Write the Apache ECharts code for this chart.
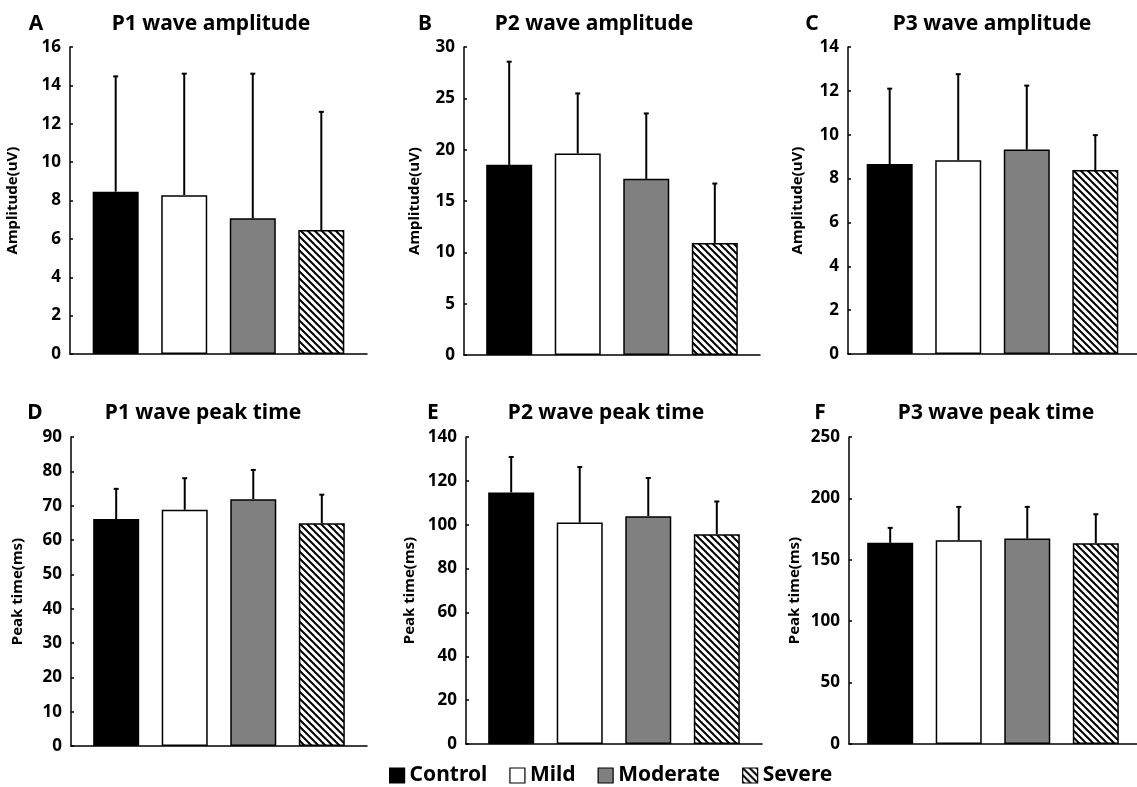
<!DOCTYPE html>
<html>
<head>
<meta charset="utf-8">
<title>ERP wave amplitude and peak time</title>
<script src="https://cdn.jsdelivr.net/npm/echarts@6/dist/echarts.min.js"></script>
<style>
  html, body { margin: 0; padding: 0; background: #fff; }
  #mychart { width: 1137px; height: 787px; }
</style>
</head>
<body>
<div id="mychart"></div>
<script>
// groups (legend / bars)
const groups = ['Control', 'Mild', 'Moderate', 'Severe']

// panel texts
const panelLetters = ['A', 'B', 'C', 'D', 'E', 'F']
const panelTitles = ['P1 wave amplitude', 'P2 wave amplitude', 'P3 wave amplitude',
  'P1 wave peak time', 'P2 wave peak time', 'P3 wave peak time']
const yNames = ['Amplitude(uV)', 'Amplitude(uV)', 'Amplitude(uV)',
  'Peak time(ms)', 'Peak time(ms)', 'Peak time(ms)']

// y axis ticks
const yMax = [16, 30, 14, 90, 140, 250]
const yStep = [2, 5, 2, 10, 20, 50]

// means and SD, order: Control, Mild, Moderate, Severe
const p1AmpMean = [8.46, 8.28, 7.07, 6.46]
const p1AmpSD = [6.01, 6.33, 7.54, 6.16]
const p2AmpMean = [18.52, 19.63, 17.16, 10.92]
const p2AmpSD = [10.05, 5.85, 6.37, 5.78]
const p3AmpMean = [8.66, 8.84, 9.33, 8.39]
const p3AmpSD = [3.44, 3.92, 2.91, 1.59]
const p1TimeMean = [66.1, 68.8, 71.9, 64.9]
const p1TimeSD = [8.8, 9.2, 8.5, 8.3]
const p2TimeMean = [114.7, 101.0, 103.9, 95.7]
const p2TimeSD = [16.2, 25.3, 17.4, 14.9]
const p3TimeMean = [163.8, 165.9, 167.3, 163.5]
const p3TimeSD = [12.2, 27.2, 25.8, 23.6]

const means = [p1AmpMean, p2AmpMean, p3AmpMean, p1TimeMean, p2TimeMean, p3TimeMean]
const sds = [p1AmpSD, p2AmpSD, p3AmpSD, p1TimeSD, p2TimeSD, p3TimeSD]

// layout
const FONT = "'Noto Sans', 'DejaVu Sans', sans-serif"
const BAR_W = 46
const BAR_GAP = 0.49   // fraction of bar width
const grids = [
  { left: 70, top: 47, width: 297, height: 307 },
  { left: 464, top: 47, width: 296, height: 308 },
  { left: 848, top: 47, width: 297, height: 307 },
  { left: 71, top: 437, width: 296, height: 309 },
  { left: 466, top: 437, width: 296, height: 307 },
  { left: 849, top: 437, width: 297, height: 307 }
]
const nameGaps = [50, 42, 43, 46, 49, 47]

// hatch pattern for Severe
function makeHatch() {
  const s = 7
  const c = document.createElement('canvas')
  c.width = s
  c.height = s
  const ctx = c.getContext('2d')
  ctx.fillStyle = '#fff'
  ctx.fillRect(0, 0, s, s)
  ctx.strokeStyle = '#000'
  ctx.lineWidth = 2
  for (let k = -1; k <= 1; k++) {
    ctx.beginPath()
    ctx.moveTo(k * s - 1, -1)
    ctx.lineTo(k * s + s + 1, s + 1)
    ctx.stroke()
  }
  return c
}
const hatch = { image: makeHatch(), repeat: 'repeat' }
const fills = ['#000000', '#ffffff', '#808080', hatch]

const myChart = echarts.init(document.querySelector('#mychart'))

const xAxis = []
const yAxis = []
const series = []
const graphic = []

grids.forEach(function (g, p) {
  xAxis.push({
    type: 'category',
    gridIndex: p,
    data: [''],
    axisLine: { lineStyle: { color: '#000', width: 1.5 } },
    axisTick: { show: false },
    axisLabel: { show: false }
  })
  yAxis.push({
    type: 'value',
    gridIndex: p,
    min: 0,
    max: yMax[p],
    interval: yStep[p],
    name: yNames[p],
    nameLocation: 'middle',
    nameGap: nameGaps[p],
    nameTextStyle: { fontFamily: FONT, fontWeight: 'bold', fontSize: 15, color: '#000' },
    axisLine: { show: true, lineStyle: { color: '#000', width: 1.5 } },
    axisTick: { show: true, inside: true, length: 3, lineStyle: { color: '#000', width: 1.5 } },
    axisLabel: { fontFamily: FONT, fontWeight: 'bold', fontSize: 17, color: '#000', margin: 9 },
    splitLine: { show: false }
  })

  // one bar series per group so the legend works
  groups.forEach(function (name, k) {
    series.push({
      type: 'bar',
      name: name,
      xAxisIndex: p,
      yAxisIndex: p,
      data: [means[p][k]],
      barWidth: BAR_W,
      barGap: (BAR_GAP * 100) + '%',
      silent: true,
      itemStyle: { color: fills[k], borderColor: '#000', borderWidth: 1.5 }
    })
  })

  // error bars (upper only)
  series.push({
    type: 'custom',
    xAxisIndex: p,
    yAxisIndex: p,
    silent: true,
    z: 3,
    data: groups.map(function (name, k) {
      return [0, means[p][k], means[p][k] + sds[p][k]]
    }),
    encode: { x: 0, y: [1, 2] },
    renderItem: function (params, api) {
      const k = params.dataIndex
      const base = api.coord([0, api.value(1)])
      const top = api.coord([0, api.value(2)])
      const x = base[0] + (k - 1.5) * BAR_W * (1 + BAR_GAP)
      const st = { stroke: '#000', lineWidth: 2 }
      return {
        type: 'group',
        children: [
          { type: 'line', shape: { x1: x, y1: base[1], x2: x, y2: top[1] }, style: st },
          { type: 'line', shape: { x1: x - 2.5, y1: top[1], x2: x + 2.5, y2: top[1] }, style: st }
        ]
      }
    }
  })
})

// panel letters and titles
const letterPos = [[36, 24], [425, 24], [812, 24], [35, 413], [433, 413], [820, 413]]
const titlePos = [[211, 24], [594, 24], [992, 24], [203, 413], [606, 413], [996, 413]]
panelTitles.forEach(function (t, p) {
  graphic.push({
    type: 'text', x: letterPos[p][0], y: letterPos[p][1],
    style: { text: panelLetters[p], font: 'bold 21px ' + FONT, fill: '#000', textAlign: 'center', textVerticalAlign: 'middle' }
  })
  graphic.push({
    type: 'text', x: titlePos[p][0], y: titlePos[p][1],
    style: { text: t, font: 'bold 21px ' + FONT, fill: '#000', textAlign: 'center', textVerticalAlign: 'middle' }
  })
})

myChart.setOption({
  animation: false,
  backgroundColor: '#fff',
  grid: grids,
  xAxis: xAxis,
  yAxis: yAxis,
  series: series,
  graphic: graphic,
  legend: {
    data: groups,
    left: 384,
    top: 760,
    icon: 'rect',
    itemWidth: 15,
    itemHeight: 15,
    itemGap: 22,
    selectedMode: false,
    itemStyle: { borderColor: '#000', borderWidth: 1.2 },
    textStyle: { fontFamily: FONT, fontWeight: 'bold', fontSize: 21, color: '#000' }
  }
})

window.onresize = function () {
  myChart.resize()
}
</script>
</body>
</html>
